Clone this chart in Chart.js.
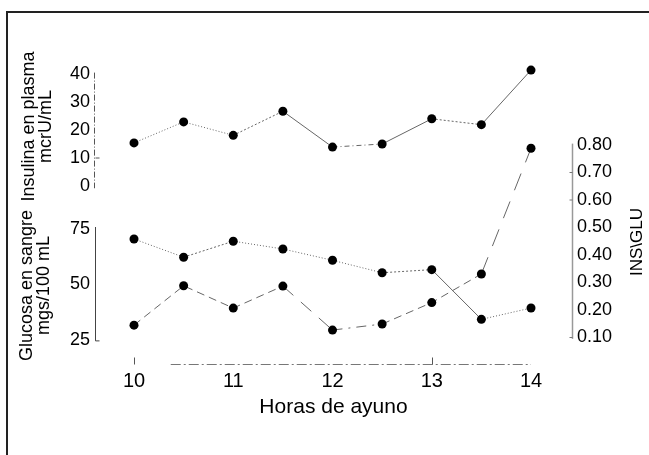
<!DOCTYPE html>
<html>
<head>
<meta charset="utf-8">
<script src="https://cdn.jsdelivr.net/npm/chart.js@4.4.1/dist/chart.umd.min.js"></script>
<style>
  html, body { margin: 0; padding: 0; background: #fff; }
</style>
</head>
<body>
<canvas id="myChart" width="649" height="455"></canvas>
<script>
// data
const hours = [10, 10.5, 11, 11.5, 12, 12.5, 13, 13.5, 14];
const insulina = [15.4, 22.9, 18.1, 26.7, 13.9, 15.0, 24.0, 21.9, 41.4];
const glucosa = [70.5, 62.3, 69.5, 66.0, 60.9, 55.3, 56.7, 34.3, 39.4];
const insGlu = [0.145, 0.288, 0.207, 0.287, 0.127, 0.149, 0.227, 0.331, 0.788];

const xTicks = [10, 11, 12, 13, 14];
const insTicks = [0, 10, 20, 30, 40];
const gluTicks = [25, 50, 75];
const ratioTicks = [0.1, 0.2, 0.3, 0.4, 0.5, 0.6, 0.7, 0.8];

// line style of every segment (scanned figure mixes dots / dashes)
const insDash = [[1, 2], [1, 2], [2, 2], [], [5, 3, 1, 3], [], [2, 2], []];
const gluDash = [[1, 2], [2, 2], [1, 2], [1, 2], [1, 2], [2, 2], [], [1, 2]];
const ratioDash = [[8, 5], [8, 5], [8, 5], [14, 10], [10, 6, 2, 6], [8, 5], [8, 5], [18, 12]];

const toXY = (ys) => hours.map((h, i) => ({ x: h, y: ys[i] }));

Chart.defaults.font.family = '"Liberation Sans", Arial, Helvetica, sans-serif';
Chart.defaults.color = '#000';

const extras = {
  id: 'extras',
  beforeDraw(chart) {
    const c = chart.ctx;
    c.save();
    c.strokeStyle = '#222';
    c.lineWidth = 2;
    c.beginPath();
    c.moveTo(7, 455);
    c.lineTo(7, 12);
    c.lineTo(649, 12);
    c.stroke();
    c.restore();
  },
  afterDraw(chart) {
    const c = chart.ctx;
    const { x, yIns, yGlu, yRatio } = chart.scales;
    const area = chart.chartArea;
    const seg = (x1, y1, x2, y2, color, dash, w) => {
      c.save();
      c.strokeStyle = color;
      c.lineWidth = w;
      c.setLineDash(dash);
      c.beginPath();
      c.moveTo(x1, y1);
      c.lineTo(x2, y2);
      c.stroke();
      c.restore();
    };
    const xl = area.left - 0.5;
    // insulina axis
    seg(xl, yIns.getPixelForValue(40.5), xl, yIns.getPixelForValue(-0.8), '#555', [6, 2, 1, 2], 1);
    seg(xl + 1, yIns.getPixelForValue(10), xl + 5, yIns.getPixelForValue(10), '#555', [], 1);
    // glucosa axis
    const xg = xl + 1;
    const g0 = yGlu.getPixelForValue(24.6);
    seg(xg, yGlu.getPixelForValue(75.9), xg, g0, '#444', [], 1);
    seg(xg, g0, xg + 4, g0, '#444', [], 1);
    // ratio axis
    const xr = area.right + 0.5;
    seg(xr, yRatio.getPixelForValue(0.805), xr, yRatio.getPixelForValue(0.095), '#999', [], 1.5);
    [0.7, 0.6, 0.1].forEach(v => {
      const py = yRatio.getPixelForValue(v);
      seg(xr - 3, py, xr, py, '#777', [], 1);
    });
    // x axis
    const yb = area.bottom + 0.5;
    seg(x.getPixelForValue(10.37), yb, x.getPixelForValue(14), yb, '#777', [10, 3, 2, 3], 1);
    [10, 13].forEach(v => {
      const px = Math.round(x.getPixelForValue(v)) + 0.5;
      seg(px, yb - 7, px, yb, '#555', [], 1);
    });
    // right axis title, reads bottom-to-top
    c.save();
    c.translate(637, 242);
    c.rotate(-Math.PI / 2);
    c.font = '17px "Liberation Sans", Arial, sans-serif';
    c.fillStyle = '#000';
    c.textAlign = 'center';
    c.textBaseline = 'middle';
    c.fillText('INS\\GLU', 0, 0);
    c.restore();
  }
};

const lineStyle = {
  borderColor: '#666',
  borderWidth: 1,
  pointRadius: 4.5,
  pointBackgroundColor: '#000',
  pointBorderColor: '#000',
  pointBorderWidth: 0,
  tension: 0
};

const noAxisLines = {
  grid: { display: false, drawTicks: false },
  border: { display: false }
};

const ctx = document.getElementById('myChart');

new Chart(ctx, {
  type: 'line',
  data: {
    datasets: [
      {
        ...lineStyle,
        label: 'Insulina',
        yAxisID: 'yIns',
        data: toXY(insulina),
        segment: { borderDash: c => insDash[c.p0DataIndex] }
      },
      {
        ...lineStyle,
        label: 'Glucosa',
        yAxisID: 'yGlu',
        data: toXY(glucosa),
        segment: { borderDash: c => gluDash[c.p0DataIndex] }
      },
      {
        ...lineStyle,
        label: 'INS\\GLU',
        yAxisID: 'yRatio',
        data: toXY(insGlu),
        segment: { borderDash: c => ratioDash[c.p0DataIndex] }
      }
    ]
  },
  options: {
    responsive: false,
    animation: false,
    devicePixelRatio: 1,
    layout: { padding: { top: 46, left: 0, right: 0, bottom: 0 } },
    plugins: {
      legend: { display: false },
      tooltip: { enabled: false }
    },
    scales: {
      x: {
        type: 'linear',
        position: 'bottom',
        min: 9.607,
        max: 14.413,
        ...noAxisLines,
        afterBuildTicks: s => { s.ticks = xTicks.map(v => ({ value: v })); },
        afterFit: s => { s.height = 91; },
        ticks: { font: { size: 20 }, padding: 5, maxRotation: 0, callback: v => String(v) },
        title: {
          display: true,
          text: 'Horas de ayuno',
          font: { size: 21, lineHeight: 1.2 },
          padding: { top: 0, bottom: 35 }
        }
      },
      yGlu: {
        type: 'linear',
        position: 'left',
        stack: 'left',
        stackWeight: 157,
        min: 14.19,
        max: 84.91,
        ...noAxisLines,
        afterBuildTicks: s => { s.ticks = gluTicks.map(v => ({ value: v })); },
        afterFit: s => { s.width = 95; },
        ticks: { font: { size: 18 }, padding: 5 },
        title: {
          display: true,
          text: ['Glucosa en sangre', 'mgs/100 mL'],
          font: { size: 18, lineHeight: 0.95 },
          padding: { top: 18, bottom: 0 }
        }
      },
      yIns: {
        type: 'linear',
        position: 'left',
        stack: 'left',
        stackWeight: 161,
        min: -7.5,
        max: 50,
        ...noAxisLines,
        afterBuildTicks: s => { s.ticks = insTicks.map(v => ({ value: v })); },
        afterFit: s => { s.width = 95; },
        ticks: { font: { size: 18 }, padding: 5 },
        title: {
          display: true,
          text: ['Insulina en plasma', 'mcrU/mL'],
          font: { size: 18, lineHeight: 0.95 },
          padding: { top: 20, bottom: 0 }
        }
      },
      yRatio: {
        type: 'linear',
        position: 'right',
        min: 0.00364,
        max: 1.16,
        ...noAxisLines,
        afterBuildTicks: s => { s.ticks = ratioTicks.map(v => ({ value: v })); },
        afterFit: s => { s.width = 77; },
        ticks: { font: { size: 18 }, padding: 5, callback: v => v.toFixed(2) }
      }
    }
  },
  plugins: [extras]
});
</script>
</body>
</html>
